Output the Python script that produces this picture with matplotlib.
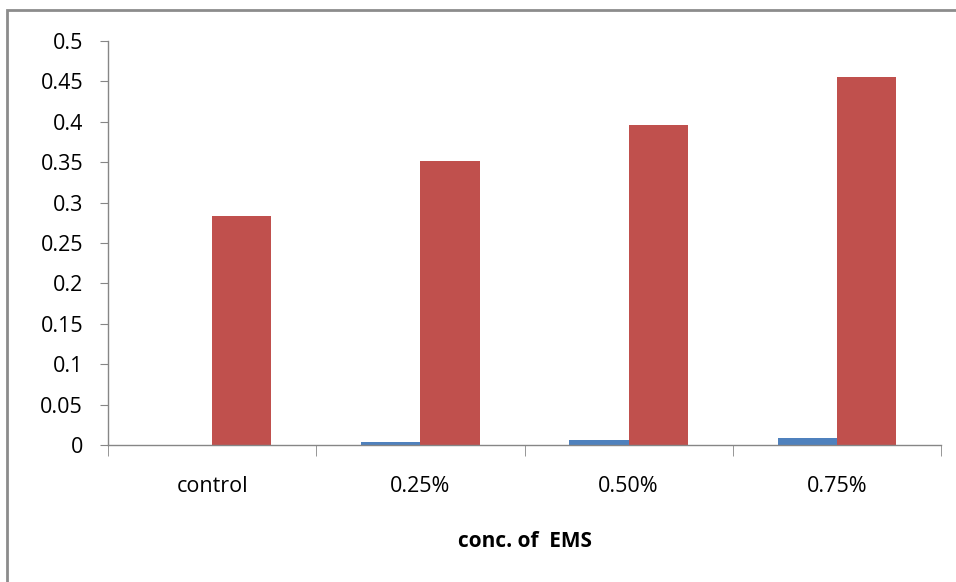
import matplotlib.pyplot as plt
import numpy as np
from matplotlib.patches import Rectangle

categories = ['control', '0.25%', '0.50%', '0.75%']
series_blue = [0.0, 0.004, 0.006, 0.009]
series_red = [0.283, 0.351, 0.396, 0.456]
yticks = [0, 0.05, 0.1, 0.15, 0.2, 0.25, 0.3, 0.35, 0.4, 0.45, 0.5]
ytick_labels = ['0', '0.05', '0.1', '0.15', '0.2', '0.25', '0.3', '0.35', '0.4', '0.45', '0.5']

plt.rcParams['font.family'] = ['Open Sans', 'DejaVu Sans']

fig = plt.figure(figsize=(9.56, 5.82), dpi=100)
ax = fig.add_axes([108 / 956, 137 / 582, 833 / 956, 404 / 582])

# outer chart frame, partly cut off at the right and bottom
fig.patches.append(Rectangle((7 / 956, -0.2), 1.2, 0.2 + 572 / 582,
                             transform=fig.transFigure, fill=False,
                             edgecolor='#8c8c8c', linewidth=2))

x = np.arange(len(categories))
w = 0.284
ax.bar(x - w / 2, series_blue, w, color='#4f81bd')
ax.bar(x + w / 2, series_red, w, color='#c0504d')

ax.set_xlim(-0.5, len(categories) - 0.5)
ax.set_ylim(0, 0.5)
ax.set_yticks(yticks)
ax.set_yticklabels(ytick_labels)
ax.set_xticks(x)
ax.set_xticklabels(categories)
ax.set_xticks(np.arange(len(categories) + 1) - 0.5, minor=True)

for side in ['top', 'right']:
    ax.spines[side].set_visible(False)
for side in ['left', 'bottom']:
    ax.spines[side].set_color('#868686')
    ax.spines[side].set_linewidth(1)

ax.tick_params(axis='y', direction='out', length=6, color='#868686',
               labelsize=15.5, pad=12)
ax.tick_params(axis='x', which='major', length=0, labelsize=15.5, pad=22)
ax.tick_params(axis='x', which='minor', direction='out', length=8,
               color='#868686')

ax.set_xlabel('conc. of  EMS', fontsize=15, fontweight='bold', labelpad=25)

fig.savefig('out.png', dpi=100)
